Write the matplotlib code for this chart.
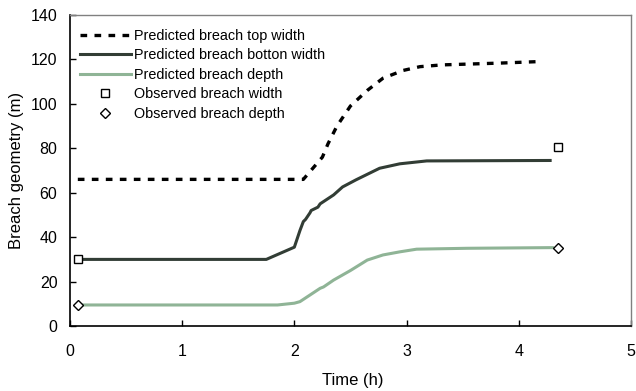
import matplotlib
matplotlib.use("Agg")
import matplotlib.pyplot as plt

plt.rcParams['font.family'] = ['Liberation Sans', 'DejaVu Sans']

# predicted breach top width
t_top = [0.07, 2.08, 2.25, 2.30, 2.38, 2.50, 2.65, 2.79, 2.97, 3.12, 3.32, 3.83, 4.19]
w_top = [66, 66, 76, 82, 90, 99, 106, 111.5, 115, 116.7, 117.5, 118.3, 119]

# predicted breach bottom width
t_bot = [0.07, 1.75, 2.0, 2.05, 2.08, 2.10, 2.14, 2.15, 2.21, 2.23, 2.35, 2.43, 2.55, 2.76, 2.94, 3.18, 4.28]
w_bot = [30, 30, 35.5, 43, 47, 48, 51, 52, 53.5, 55, 59, 62.6, 65.8, 71, 73, 74.3, 74.5]

# predicted breach depth
t_dep = [0.07, 1.85, 2.0, 2.05, 2.23, 2.26, 2.35, 2.5, 2.65, 2.79, 2.94, 3.09, 3.54, 4.3]
d_dep = [9.5, 9.5, 10.3, 11, 17, 17.6, 20.7, 25, 29.7, 32, 33.4, 34.6, 35, 35.3]

# observed
t_obs = [0.07, 4.35]
w_obs = [30, 80.5]
d_obs = [9.5, 35]

fig = plt.figure(figsize=(6.36, 3.91), dpi=100)
ax = fig.add_axes([0.110, 0.166, 0.882, 0.796])

ax.plot(t_top, w_top, color='black', lw=2.4, ls=(0, (2, 2.2)), label='Predicted breach top width')
ax.plot(t_bot, w_bot, color='#323d35', lw=2.2, label='Predicted breach botton width')
ax.plot(t_dep, d_dep, color='#8fb496', lw=2.2, label='Predicted breach depth')
ax.plot(t_obs, w_obs, ls='none', marker='s', ms=6, mfc='white', mec='black', mew=1, label='Observed breach width')
ax.plot(t_obs, d_obs, ls='none', marker='D', ms=5.5, mfc='white', mec='black', mew=1, label='Observed breach depth')

ax.set_xlim(0, 5)
ax.set_ylim(0, 140)
ax.set_xticks([0, 1, 2, 3, 4, 5])
ax.set_yticks(range(0, 141, 20))
ax.tick_params(direction='in', length=4, width=1, labelsize=11.5)
ax.tick_params(axis='x', pad=13)
ax.tick_params(axis='y', pad=9)
ax.set_xlabel('Time (h)', fontsize=12)
ax.set_ylabel('Breach geometry (m)', fontsize=12)
ax.xaxis.set_label_coords(0.505, -0.151)
ax.yaxis.set_label_coords(-0.082, 0.5)

for s in ['left', 'bottom']:
    ax.spines[s].set_color('black')
    ax.spines[s].set_linewidth(1.2)
for s in ['top', 'right']:
    ax.spines[s].set_color('#808080')
    ax.spines[s].set_linewidth(1)

ax.legend(loc='upper left', bbox_to_anchor=(0.018, 0.955), frameon=False, fontsize=10.4,
          handlelength=3.5, handletextpad=0.2, labelspacing=0.38, borderaxespad=0, borderpad=0)

fig.savefig('out.png', dpi=100)
